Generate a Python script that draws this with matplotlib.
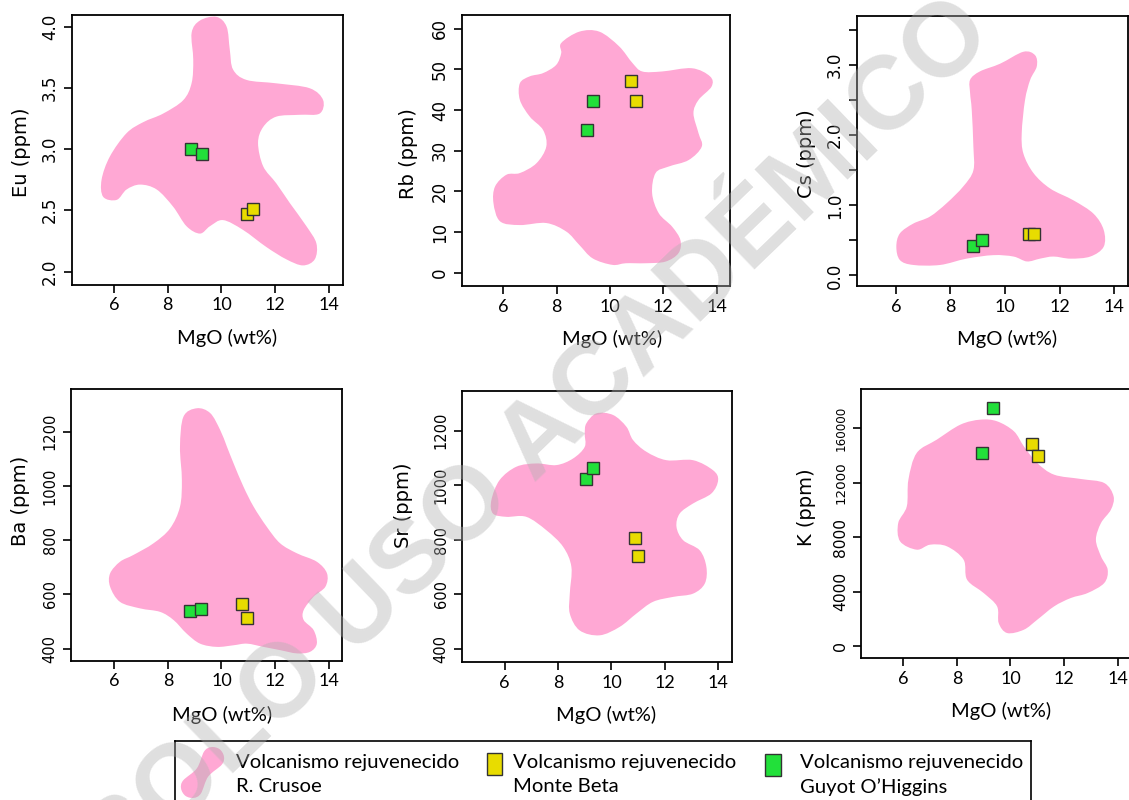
import matplotlib
matplotlib.use("Agg")
import matplotlib.pyplot as plt
from matplotlib.path import Path
from matplotlib.patches import PathPatch, Rectangle

W, H, DPI = 1129, 800, 100

PINK = "#ffa8d4"
YELLOW = "#e8dc00"
GREEN = "#22e03a"
EDGE = "#333333"

# ---------------------------------------------------------------
# R. Crusoe rejuvenated-volcanism fields (MgO wt%, element) outlines
# ---------------------------------------------------------------
eu_field = [(9.20, 4.05), (9.81, 4.08), (10.19, 4.00), (10.31, 3.81), (10.43, 3.65),
            (10.93, 3.565), (12.04, 3.537), (13.28, 3.497), (13.78, 3.40), (13.65, 3.29),
            (12.91, 3.28), (12.04, 3.265), (11.55, 3.18), (11.36, 3.05), (11.55, 2.86),
            (12.04, 2.72), (12.54, 2.56), (13.16, 2.37), (13.53, 2.23), (13.47, 2.10),
            (13.03, 2.05), (12.41, 2.10), (11.67, 2.20), (10.80, 2.34), (10.06, 2.42),
            (9.57, 2.37), (9.20, 2.31), (8.70, 2.37), (8.20, 2.53), (7.59, 2.67),
            (6.97, 2.71), (6.47, 2.67), (6.10, 2.585), (5.60, 2.61), (5.54, 2.75),
            (5.85, 2.94), (6.47, 3.13), (7.09, 3.22), (7.83, 3.29), (8.58, 3.40),
            (8.89, 3.54), (8.95, 3.73), (8.89, 3.95)]

rb_field = [(8.17, 56.5), (8.85, 59.3), (9.60, 59.3), (10.34, 55.7), (10.84, 51.6),
            (11.21, 49.5), (11.95, 49.5), (13.07, 50.3), (13.75, 48.3), (13.81, 45.8),
            (13.32, 42.5), (13.13, 39.2), (13.32, 34.3), (13.44, 31.0), (12.95, 27.7),
            (12.20, 26.1), (11.71, 24.5), (11.58, 19.5), (11.83, 14.6), (12.33, 11.3),
            (12.64, 8.0), (12.57, 4.8), (12.08, 2.7), (11.33, 2.3), (10.59, 2.3),
            (10.09, 1.9), (9.35, 3.5), (8.85, 6.8), (8.36, 10.1), (7.61, 12.2),
            (6.62, 11.7), (5.88, 12.6), (5.63, 17.1), (5.69, 21.2), (6.12, 24.1),
            (6.62, 24.5), (7.24, 26.9), (7.61, 31.0), (7.49, 35.1), (6.99, 38.4),
            (6.62, 42.5), (6.62, 46.6), (6.99, 48.3), (7.49, 49.1), (7.98, 51.1),
            (8.17, 54.0)]

cs_field = [(8.72, 2.79), (9.08, 2.91), (9.82, 3.02), (10.67, 3.19), (11.10, 3.14),
            (11.16, 2.98), (10.92, 2.79), (10.73, 2.50), (10.61, 2.03), (10.67, 1.74),
            (11.04, 1.46), (11.65, 1.24), (12.51, 1.07), (13.24, 0.88), (13.61, 0.65),
            (13.61, 0.41), (13.12, 0.27), (12.39, 0.24), (11.77, 0.27), (11.28, 0.24),
            (10.80, 0.20), (10.31, 0.27), (9.57, 0.29), (8.59, 0.24), (7.62, 0.15),
            (6.64, 0.15), (6.15, 0.22), (6.02, 0.41), (6.15, 0.60), (6.64, 0.74),
            (7.25, 0.84), (7.86, 1.03), (8.47, 1.27), (8.84, 1.50), (8.84, 1.84),
            (8.78, 2.36), (8.72, 2.60)]

ba_field = [(8.58, 1255), (9.08, 1286), (9.58, 1268), (9.95, 1206), (10.20, 1145),
            (10.45, 1083), (10.82, 997), (11.20, 923), (11.69, 849), (12.19, 788),
            (12.82, 751), (13.56, 720), (13.94, 677), (13.88, 628), (13.44, 591),
            (13.07, 542), (13.07, 505), (13.44, 468), (13.56, 418), (13.31, 388),
            (12.82, 382), (12.19, 394), (11.57, 406), (10.95, 418), (10.45, 412),
            (9.83, 406), (9.20, 418), (8.70, 455), (8.21, 505), (7.71, 535),
            (6.96, 548), (6.21, 572), (5.84, 628), (5.84, 677), (6.21, 720),
            (6.71, 745), (7.46, 788), (8.08, 843), (8.45, 923), (8.52, 1022),
            (8.45, 1145)]

sr_field = [(9.06, 1227), (9.44, 1264), (10.06, 1258), (10.56, 1215), (10.81, 1166),
            (11.31, 1123), (12.06, 1092), (13.06, 1092), (13.81, 1055), (14.00, 1019),
            (13.75, 970), (13.06, 933), (12.56, 896), (12.44, 847), (12.69, 798),
            (13.31, 761), (13.56, 700), (13.50, 639), (13.06, 602), (12.31, 590),
            (11.56, 572), (10.94, 529), (10.31, 480), (9.56, 449), (8.81, 467),
            (8.44, 529), (8.44, 602), (8.50, 700), (8.19, 774), (7.56, 835),
            (6.81, 884), (6.06, 884), (5.56, 896), (5.50, 945), (5.81, 1019),
            (6.44, 1068), (7.19, 1080), (7.94, 1074), (8.56, 1098), (9.00, 1141),
            (9.00, 1190)]

k_field = [(6.50, 14169), (7.25, 15147), (8.13, 16246), (8.88, 16612), (9.50, 16490),
           (10.13, 15757), (10.50, 14658), (11.00, 13437), (11.63, 12581), (12.63, 12264),
           (13.50, 11971), (13.85, 10994), (13.75, 10016), (13.38, 9039), (13.19, 7818),
           (13.38, 6596), (13.63, 5619), (13.50, 4642), (12.88, 3909), (12.25, 3542),
           (11.63, 2932), (11.00, 1954), (10.50, 1222), (9.88, 977), (9.56, 1710),
           (9.50, 2932), (9.00, 3909), (8.38, 4886), (8.25, 6352), (7.63, 7329),
           (7.00, 7451), (6.50, 7085), (5.88, 7695), (5.81, 9039), (6.13, 10261),
           (6.19, 12215)]

# ---------------------------------------------------------------
# Monte Beta and Guyot O'Higgins samples
# ---------------------------------------------------------------
beta_mgo_eu, beta_eu = [10.96, 11.16], [2.47, 2.51]
guyot_mgo_eu, guyot_eu = [8.86, 9.28], [3.00, 2.96]

beta_mgo_rb, beta_rb = [10.77, 10.97], [47.2, 42.3]
guyot_mgo_rb, guyot_rb = [9.35, 9.12], [42.3, 35.0]

beta_mgo_cs, beta_cs = [10.87, 11.06], [0.59, 0.59]
guyot_mgo_cs, guyot_cs = [8.83, 9.17], [0.42, 0.50]

beta_mgo_ba, beta_ba = [10.78, 10.97], [563, 512]
guyot_mgo_ba, guyot_ba = [8.84, 9.24], [537, 545]

beta_mgo_sr, beta_sr = [10.87, 11.01], [806, 741]
guyot_mgo_sr, guyot_sr = [9.04, 9.30], [1024, 1065]

beta_mgo_k, beta_k = [10.79, 11.02], [14820, 13980]
guyot_mgo_k, guyot_k = [8.95, 9.35], [14200, 17430]

mgo_ticks = [6, 8, 10, 12, 14]
eu_ticks, eu_labels = [2.0, 2.5, 3.0, 3.5, 4.0], ["2.0", "2.5", "3.0", "3.5", "4.0"]
rb_ticks, rb_labels = [0, 10, 20, 30, 40, 50, 60], ["0", "10", "20", "30", "40", "50", "60"]
cs_ticks = [0.0, 0.5, 1.0, 1.5, 2.0, 2.5, 3.0, 3.5]
cs_labels = ["0.0", "", "1.0", "", "2.0", "", "3.0", ""]
ba_ticks, ba_labels = [400, 600, 800, 1000, 1200], ["400", "600", "800", "1000", "1200"]
sr_ticks, sr_labels = [400, 600, 800, 1000, 1200], ["400", "600", "800", "1000", "1200"]
k_ticks, k_labels = [0, 4000, 8000, 12000, 16000], ["0", "4000", "8000", "12000", "160000"]

legend_title = "Volcanismo rejuvenecido"
legend_names = ["R. Crusoe", "Monte Beta", "Guyot O\u2019Higgins"]
watermark = "SOLO USO ACADÉMICO"


def smooth_closed_path(points):
    """Closed Catmull-Rom curve through the points, as cubic Bezier segments."""
    n = len(points)
    verts = [points[0]]
    codes = [Path.MOVETO]
    for i in range(n):
        p0 = points[(i - 1) % n]
        p1 = points[i]
        p2 = points[(i + 1) % n]
        p3 = points[(i + 2) % n]
        c1 = (p1[0] + (p2[0] - p0[0]) / 6.0, p1[1] + (p2[1] - p0[1]) / 6.0)
        c2 = (p2[0] - (p3[0] - p1[0]) / 6.0, p2[1] - (p3[1] - p1[1]) / 6.0)
        verts += [c1, c2, p2]
        codes += [Path.CURVE4] * 3
    verts.append(points[0])
    codes.append(Path.CLOSEPOLY)
    return Path(verts, codes)


fig = plt.figure(figsize=(W / DPI, H / DPI), dpi=DPI)
fig.patch.set_facecolor("white")


def px_axes(left, top, right, bottom):
    return fig.add_axes([left / W, 1 - bottom / H, (right - left) / W, (bottom - top) / H])


panels = [
    dict(box=(72, 15, 343, 285), xlim=(4.44, 14.52), ylim=(1.89, 4.095), ylabel="Eu (ppm)",
         field=eu_field, beta=(beta_mgo_eu, beta_eu), guyot=(guyot_mgo_eu, guyot_eu),
         yt=eu_ticks, yl=eu_labels, ysz=12, ylab_pos=(-0.188, 0.49), xlab_x=0.572),
    dict(box=(462, 15, 730, 286), xlim=(4.45, 14.50), ylim=(-3.3, 63.4), ylabel="Rb (ppm)",
         field=rb_field, beta=(beta_mgo_rb, beta_rb), guyot=(guyot_mgo_rb, guyot_rb),
         yt=rb_ticks, yl=rb_labels, ysz=12, ylab_pos=(-0.20, 0.49), xlab_x=0.559),
    dict(box=(857, 16, 1128, 286), xlim=(4.58, 14.50), ylim=(-0.15, 3.70), ylabel="Cs (ppm)",
         field=cs_field, beta=(beta_mgo_cs, beta_cs), guyot=(guyot_mgo_cs, guyot_cs),
         yt=cs_ticks, yl=cs_labels, ysz=12, ylab_pos=(-0.187, 0.49), xlab_x=0.553),
    dict(box=(71, 389, 342, 661), xlim=(4.38, 14.50), ylim=(354, 1357), ylabel="Ba (ppm)",
         field=ba_field, beta=(beta_mgo_ba, beta_ba), guyot=(guyot_mgo_ba, guyot_ba),
         yt=ba_ticks, yl=ba_labels, ysz=10.5, ylab_pos=(-0.188, 0.59), xlab_x=0.557),
    dict(box=(462, 391, 732, 662), xlim=(4.40, 14.52), ylim=(351, 1346), ylabel="Sr (ppm)",
         field=sr_field, beta=(beta_mgo_sr, beta_sr), guyot=(guyot_mgo_sr, guyot_sr),
         yt=sr_ticks, yl=sr_labels, ysz=10.5, ylab_pos=(-0.218, 0.58), xlab_x=0.535),
    dict(box=(861, 389, 1131, 658), xlim=(4.42, 14.50), ylim=(-850, 18857), ylabel="K (ppm)",
         field=k_field, beta=(beta_mgo_k, beta_k), guyot=(guyot_mgo_k, guyot_k),
         yt=k_ticks, yl=k_labels, ysz=[11.5, 11.2, 11.2, 9.7, 8.6], ylab_pos=(-0.20, 0.56),
         xlab_x=0.517),
]

for p in panels:
    ax = px_axes(*p["box"])
    ax.set_xlim(*p["xlim"])
    ax.set_ylim(*p["ylim"])

    ax.add_patch(PathPatch(smooth_closed_path(p["field"]), facecolor=PINK,
                           edgecolor="none", zorder=1))
    for (xs, ys), col in ((p["guyot"], GREEN), (p["beta"], YELLOW)):
        for x, y in zip(xs, ys):
            ax.plot([x], [y], ls="none", marker="s", markersize=9.2,
                    markerfacecolor=col, markeredgecolor=EDGE, markeredgewidth=1.0,
                    zorder=3)

    for s in ax.spines.values():
        s.set_linewidth(1.3)
        s.set_color("black")
    ax.set_xticks(mgo_ticks)
    ax.set_xticklabels([str(t) for t in mgo_ticks])
    ax.set_yticks(p["yt"])
    ax.set_yticklabels(p["yl"])
    ax.tick_params(axis="both", direction="out", length=6, width=1.2, color="black")
    ax.tick_params(axis="x", pad=3, labelsize=13, labelfontfamily="Lato")
    ax.tick_params(axis="y", pad=3.5, labelfontfamily="DejaVu Sans", labelrotation=90)
    sizes = p["ysz"] if isinstance(p["ysz"], list) else [p["ysz"]] * len(p["yt"])
    for t, sz in zip(ax.get_yticklabels(), sizes):
        t.set_va("center")
        t.set_fontsize(sz)

    ax.set_xlabel("MgO (wt%)", fontsize=14.5, family="Lato")
    ax.xaxis.label.set_va("center")
    ax.xaxis.set_label_coords(p["xlab_x"], -0.197)
    ax.set_ylabel(p["ylabel"], fontsize=14, family="DejaVu Sans")
    ax.yaxis.label.set_va("center")
    ax.yaxis.set_label_coords(*p["ylab_pos"])

# ---------------------------------------------------------------
# legend box
# ---------------------------------------------------------------
leg = px_axes(175, 741, 1031, 812)
leg.set_xlim(0, 856)
leg.set_ylim(71, 0)
leg.set_xticks([])
leg.set_yticks([])
for s in leg.spines.values():
    s.set_linewidth(1.2)

swatch = [(44.5, 8.1), (48.9, 15.3), (46.9, 23.5), (33.2, 35.6), (25.9, 52.5),
          (18.7, 56.9), (10.5, 54.9), (6.1, 47.7), (8.1, 39.5), (21.8, 27.4),
          (29.1, 10.5), (36.3, 6.1)]
leg.add_patch(PathPatch(smooth_closed_path(swatch), facecolor=PINK, edgecolor="none"))
leg.add_patch(Rectangle((312, 12), 15, 22, facecolor=YELLOW, edgecolor=EDGE, lw=1.0))
leg.add_patch(Rectangle((590, 13), 16, 22, facecolor=GREEN, edgecolor=EDGE, lw=1.0))

for x0, name in zip((61, 338, 625), legend_names):
    leg.text(x0, 22, legend_title, fontsize=14.6, family="Lato", va="center", ha="left")
    leg.text(x0, 46, name, fontsize=14.6, family="Lato", va="center", ha="left")

# watermark across the sheet
fig.text(0.478, 0.45, watermark, rotation=44, ha="center", va="center",
         fontsize=75, fontweight="bold", family="Liberation Sans",
         color="#b0b0b0", alpha=0.4, zorder=50)

fig.savefig("out.png", dpi=DPI, facecolor="white")
